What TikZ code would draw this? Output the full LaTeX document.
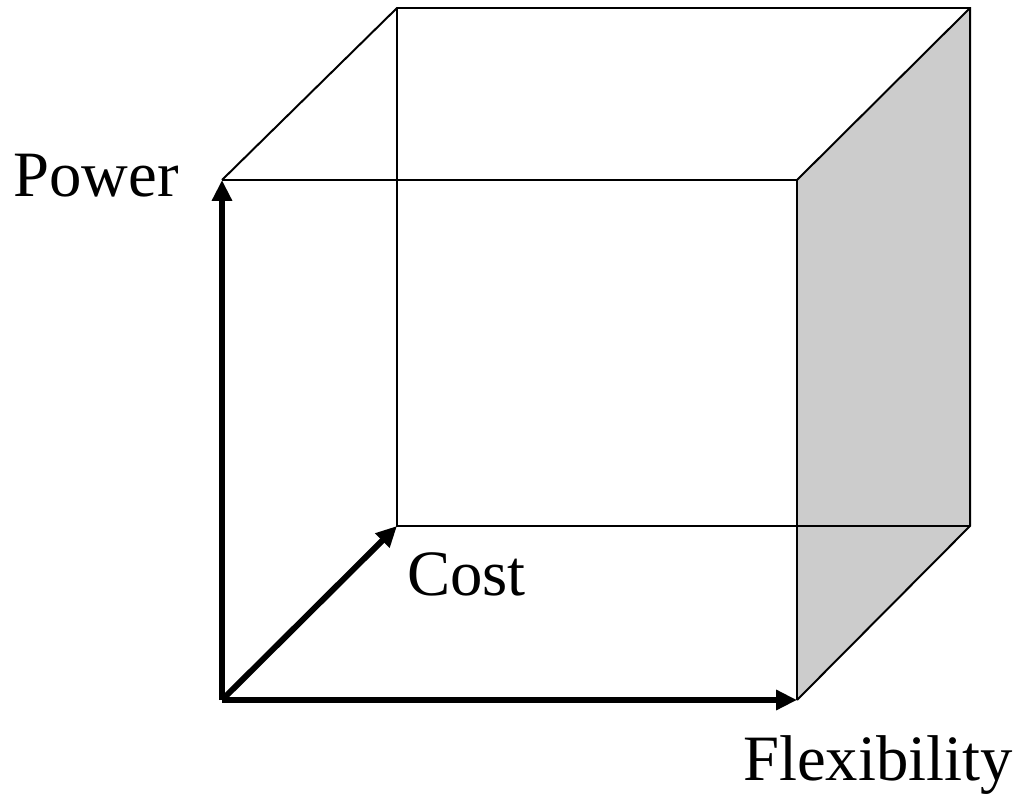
\documentclass[tikz,border=0pt]{standalone}
\usepackage{fontspec}
\setmainfont{Liberation Serif}
\usetikzlibrary{arrows.meta}
\tikzset{edge/.style={line width=1.4pt,line join=miter},
	axis/.style={line width=4.2pt,-{Triangle[length=0.52cm,width=0.48cm]}},
	lab/.style={font=\fontsize{46}{50}\selectfont,inner sep=0pt,anchor=base west}}
\begin{document}
\begin{tikzpicture}[x=0.025cm,y=-0.025cm]
	\useasboundingbox(0,0)rectangle(1017,800);
	\coordinate(O)at(222,700);\coordinate(P)at(222,180);
	\coordinate(F)at(797,700);\coordinate(FP)at(797,180);
	\coordinate(C)at(397,526);\coordinate(CP)at(397,8);
	\coordinate(CF)at(970,526);\coordinate(CFP)at(970,8);
	\fill[gray!40](FP)--(CFP)--(CF)--(F)--cycle;
	\draw[edge](P)--(FP)--(F) (P)--(CP)--(CFP)--(CF)--(F) (FP)--(CFP);
	\draw[edge](CP)--(C)--(CF);
	\draw[axis](O)--(P);
	\draw[axis](O)--(F);
	\draw[axis](O)--(C);
	\node[lab](pw)at(13,197){Power};
	\node[lab](ct)at(407,595){Cost};
	\node[lab](fx)at(743,780){Flexibility};
\end{tikzpicture}
\end{document}
